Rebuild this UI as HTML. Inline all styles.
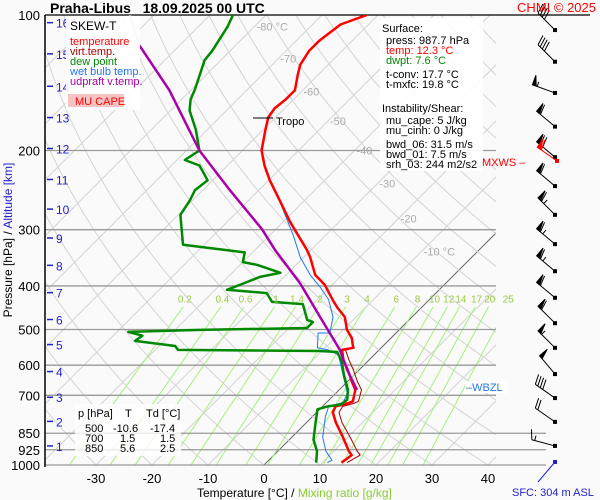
<!DOCTYPE html>
<html><head><meta charset="utf-8">
<style>
html,body{margin:0;padding:0;background:#fafafa;}
svg{display:block;font-family:"Liberation Sans",Arial,sans-serif;}
</style></head>
<body>
<svg id="chart" width="600" height="500" viewBox="0 0 600 500">
<defs><clipPath id="plotclip"><rect x="45" y="15" width="451" height="450"/></clipPath></defs>
<rect x="0" y="0" width="600" height="500" fill="#fafafa"/>
<g id="grid" clip-path="url(#plotclip)"></g>
<g id="isobars"></g>
<g id="profiles" clip-path="url(#plotclip)"></g>
<g id="winds"></g>
<g id="labels"></g>

<text x="50" y="13" font-size="14" font-weight="bold" fill="#000">Praha-Libus &#160;&#160;18.09.2025 00 UTC</text>
<text x="596" y="12" font-size="13" fill="#f00" text-anchor="end">CHMI © 2025</text>

<g>
<rect x="66" y="16" width="74" height="94" fill="#fff" opacity="0.9"/>
<text x="70" y="30" font-size="12" fill="#000">SKEW-T</text>
<text x="70" y="45" font-size="11" fill="#f00">temperature</text>
<text x="70" y="55" font-size="11" fill="#a00">virt.temp.</text>
<text x="70" y="65" font-size="11" fill="#080">dew point</text>
<text x="70" y="75" font-size="11" fill="#27e">wet bulb temp.</text>
<text x="70" y="85" font-size="11" fill="#a0a">udpraft v.temp.</text>
<rect x="68" y="94" width="56" height="13" fill="#f7c4c4"/>
<text x="75" y="105" font-size="11" fill="#f00">MU CAPE</text>
</g>

<g>
<rect x="380" y="18" width="103" height="153" fill="#fff" opacity="0.9"/>
<g font-size="11">
<text x="382" y="32" fill="#000">Surface:</text>
<text x="386" y="44" fill="#000">press: 987.7 hPa</text>
<text x="386" y="54" fill="#f00">temp: 12.3 °C</text>
<text x="386" y="64" fill="#080">dwpt: 7.6 °C</text>
<text x="386" y="78" fill="#000">t-conv: 17.7 °C</text>
<text x="386" y="88" fill="#000">t-mxfc: 19.8 °C</text>
<text x="382" y="112" fill="#000">Instability/Shear:</text>
<text x="386" y="124" fill="#000">mu_cape: 5 J/kg</text>
<text x="386" y="134" fill="#000">mu_cinh: 0 J/kg</text>
<text x="386" y="148" fill="#000">bwd_06: 31.5 m/s</text>
<text x="386" y="158" fill="#000">bwd_01: 7.5 m/s</text>
<text x="386" y="168" fill="#000">srh_03: 244 m2/s2</text>
</g></g>
<text x="482" y="166" font-size="11" fill="#f00">MXWS –</text>
<rect x="465" y="381" width="43" height="12" fill="#fff"/>
<text x="466" y="391" font-size="11" fill="#27e">–WBZL</text>
<text x="512" y="496" font-size="11" fill="#22c">SFC: 304 m ASL</text>

<g>
<rect x="75" y="404" width="106" height="52" fill="#fff" opacity="0.8"/>
<g font-size="11" fill="#000">
<text x="78" y="417">p [hPa]</text><text x="125" y="417">T</text><text x="146" y="417">Td [°C]</text>
<text x="85" y="432">500</text><text x="113" y="432">-10.6</text><text x="150" y="432">-17.4</text>
<text x="85" y="442">700</text><text x="120" y="442">1.5</text><text x="160" y="442">1.5</text>
<text x="85" y="452">850</text><text x="120" y="452">5.6</text><text x="160" y="452">2.5</text>
</g></g>

<text x="197" y="497" font-size="12"><tspan fill="#000">Temperature [°C]  /  </tspan><tspan fill="#8c3">Mixing ratio [g/kg]</tspan></text>
<text transform="translate(12,240) rotate(-90)" font-size="12" text-anchor="middle"><tspan fill="#000">Pressure [hPa]  /  </tspan><tspan fill="#22c">Altitude [km]</tspan></text>

<script>
// ---- data ----
const pressureTicks=[100,200,300,400,500,600,700,850,925,1000];
const tempTicks=[-30,-20,-10,0,10,20,30,40];
const kmTicks=[16,15,14,13,12,11,10,9,8,7,6,5,4,3,2,1];
const kmPressure=[104,122,144,169,198,232,270,313,360,414,475,540,620,707,800,907];
const mixRatios=[0.2,0.4,0.6,1,1.4,2,3,4,6,8,10,12,14,17,20,25];
const isothermLabels=[-80,-70,-60,-50,-40,-30,-20,-10];
const tempP=[100,105,114,120,129,136,147,154,161,169,180,200,216,233,258,288,333,345,378,398,429,447,469,501,522,549,555,584,615,654,681,722,730,741,764,804,867,932,951,988];
const tempT=[-62.0,-65.0,-65.9,-65.9,-65.0,-63.6,-61.4,-61.4,-61.8,-61.3,-59.6,-56.6,-53.4,-49.8,-44.5,-38.8,-30.7,-28.9,-24.8,-21.3,-17.3,-15.0,-12.0,-9.3,-7.0,-5.0,-6.6,-4.6,-2.0,0.9,2.9,4.5,3.9,2.3,2.9,5.2,9.1,12.7,13.9,13.4];
const virtP=[549,555,584,615,654,681,722,730,741,764,804,867,932,951,988];
const virtT=[-4.7,-6.0,-3.6,-1.0,1.9,4.0,5.5,5.0,3.6,4.0,6.3,10.4,14.2,15.4,14.4];
const dewP=[100,106,120,126,136,147,154,163,180,200,210,216,233,245,258,278,324,337,354,359,374,382,392,408,415,434,439,476,481,496,501,506,516,530,544,555,558,561,590,631,681,716,734,741,752,804,878,932,988];
const dewT=[-85.9,-84.8,-83.2,-82.9,-81.1,-79.3,-78.4,-76.6,-72.0,-67.7,-68.6,-65.0,-60.9,-61.4,-60.5,-59.6,-53.8,-41.4,-40.0,-37.0,-31.4,-34.3,-35.7,-37.9,-30.2,-27.7,-21.8,-18.2,-16.8,-16.8,-35.5,-48.0,-44.8,-45.2,-37.1,-35.9,-10.4,-7.1,-4.5,-1.8,1.6,3.2,2.9,0.9,-0.4,1.6,4.3,7.0,8.9];
const wetP=[221,245,278,308,333,345,378,402,429,469,509,509,549,555,569,692,726,741,780,867,932,976,988];
const wetT=[-52.5,-47.1,-40.9,-35.9,-32.3,-30.7,-25.7,-21.8,-18.0,-14.1,-11.8,-13.9,-11.4,-9.1,-6.4,2.0,3.0,1.1,2.3,5.5,8.6,11.3,10.9];
const parcelP=[100,117,147,200,245,299,333,394,469,555,615,681];
const parcelT=[-104.3,-97.1,-83.8,-67.7,-55.2,-42.5,-36.4,-26.1,-16.4,-7.0,-2.1,3.2];
const windP=[108,127,149,177,207,240,278,323,371,425,484,549,628,710,802,907];
const windDir=[315,315,290,310,310,310,315,310,310,310,315,315,320,305,305,285];
const windKt=[40,40,55,60,70,60,65,65,65,60,60,55,50,40,20,15];

// ---- scales ----
const NS='http://www.w3.org/2000/svg';
function Y(p){return 15+450*Math.log10(p/100);}
function X(T,p){return 264+5.6*T+(465-Y(p));}
function mk(tag,attrs,parent){const e=document.createElementNS(NS,tag);for(const k in attrs)e.setAttribute(k,attrs[k]);parent.appendChild(e);return e;}
const grid=document.getElementById('grid'),iso=document.getElementById('isobars'),prof=document.getElementById('profiles'),lab=document.getElementById('labels'),winds=document.getElementById('winds');

for(let T=-130;T<=50;T+=10){
  const l=mk('line',{x1:X(T,1050),y1:Y(1050),x2:X(T,95),y2:Y(95),stroke:T===0?'#666':'#d4d4d4','stroke-width':1},grid);
  
  
}
for(let th=-40;th<=220;th+=10){
  let d='';
  for(let p=1050;p>=95;p-=10){const T=(th+273.15)*Math.pow(p/1000,0.2857)-273.15;d+=(d?'L':'M')+X(T,p).toFixed(1)+','+Y(p).toFixed(1);}
  const e=mk('path',{d:d,fill:'none',stroke:'#d4d4d4','stroke-width':1},grid);
  
  
}
function tdFromW(w,p){const e=w*p/(622+w);const a=Math.log(e/6.112);return 243.5*a/(17.67-a);}
mixRatios.forEach(w=>{
  const e=mk('line',{x1:X(tdFromW(w,1050),1050),y1:Y(1050),x2:X(tdFromW(w,445),445),y2:Y(445),stroke:'#a6f07a','stroke-width':1},grid);
  
  
  const t=mk('text',{x:X(tdFromW(w,440),440),y:Y(440)-2,'font-size':10,fill:'#9c4','text-anchor':'middle'},lab);
  t.textContent=w;
  
  
});
const isoLabelP=[106,125,148,172,200,237,283,335];
isothermLabels.forEach((T,i)=>{
  const p=isoLabelP[i];
  const t=mk('text',{x:X(T,p)+2,y:Y(p)+4,'font-size':11,fill:'#aaa'},lab);
  t.textContent=(T===-80||T===-10)?T+' °C':T;
  
  
});
pressureTicks.forEach(p=>{
  const right=p===100?590:(p>=850?546:496);
  const l=mk('line',{x1:45,y1:Y(p),x2:right,y2:Y(p),stroke:p===100?'#000':'#999','stroke-width':1.3},iso);
  
  
  const t=mk('text',{x:40,y:Y(p)+5,'font-size':13,fill:'#000','text-anchor':'end'},iso);
  t.textContent=p;
  
  
});
const ax=mk('line',{x1:45,y1:15,x2:45,y2:467,stroke:'#000','stroke-width':1.5},iso);


kmTicks.forEach((k,i)=>{
  const y=Y(kmPressure[i]);
  const l=mk('line',{x1:47,y1:y,x2:53,y2:y,stroke:'#22c','stroke-width':1.5},lab);
  
  
  const t=mk('text',{x:56,y:y+5,'font-size':12,fill:'#22c'},lab);
  t.textContent=k;
  
  
});
tempTicks.forEach(T=>{
  const t=mk('text',{x:X(T,1000),y:483,'font-size':13,fill:'#000','text-anchor':'middle'},lab);
  t.textContent=T;
  
  
});
function line(P,T,color,w,name){
  let d='';P.forEach((p,i)=>{d+=(i?'L':'M')+X(T[i],p).toFixed(1)+','+Y(p).toFixed(1);});
  const e=mk('path',{d:d,fill:'none',stroke:color,'stroke-width':w,'stroke-linejoin':'round'},prof);
  
  
}
line(wetP,wetT,'#27e',1,'wet-bulb-line');
line(virtP,virtT,'#a00',1,'virtual-temperature-line');
line(tempP,tempT,'#f00',2.5,'temperature-line');
line(dewP,dewT,'#080',2.5,'dew-point-line');
line(parcelP.slice(0,2),parcelT.slice(0,2),'#dab0e6',2.5,'updraft-line-top');
line(parcelP.slice(1),parcelT.slice(1),'#a0a',2.5,'updraft-line');
const tr=mk('line',{x1:253,y1:118,x2:273,y2:118,stroke:'#000','stroke-width':1},lab);


const tt=mk('text',{x:276,y:125,'font-size':11,fill:'#000'},lab);
tt.textContent='Tropo';


function barb(bx,by,dir,kt,color,name){
  const L=24,a=dir*Math.PI/180;
  const ux=Math.sin(a),uy=-Math.cos(a);
  const ex=bx+ux*L,ey=by+uy*L;
  const g=mk('g',{stroke:color,'stroke-width':1,fill:color},winds);
  
  
  mk('line',{x1:bx,y1:by,x2:ex,y2:ey},g);
  mk('rect',{x:bx-2,y:by-2,width:4,height:4,stroke:'none'},g);
  let s=kt,pos=0;
  const px=-uy,py=ux;
  while(s>=50){const x0=ex-ux*pos,y0=ey-uy*pos;mk('polygon',{points:`${x0},${y0} ${x0+px*10},${y0+py*10} ${x0-ux*4},${y0-uy*4}`},g);pos+=5;s-=50;}
  while(s>=10){const x0=ex-ux*pos,y0=ey-uy*pos;mk('line',{x1:x0,y1:y0,x2:x0+px*10+ux*3,y2:y0+py*10+uy*3},g);pos+=3;s-=10;}
  if(s>=5){const x0=ex-ux*pos,y0=ey-uy*pos;mk('line',{x1:x0,y1:y0,x2:x0+px*5,y2:y0+py*5},g);}
}
windP.forEach((p,i)=>{barb(555,Y(p),windDir[i],windKt[i],'#000','wind-barb');});
barb(557,Y(211),305,60,'#f00','max-wind-barb');
const sfc=mk('line',{x1:555,y1:462,x2:538,y2:482,stroke:'#22c','stroke-width':1},winds);


const sd=mk('rect',{x:553,y:460,width:4,height:4,fill:'#22c'},winds);


</script>
</svg>
</body></html>
